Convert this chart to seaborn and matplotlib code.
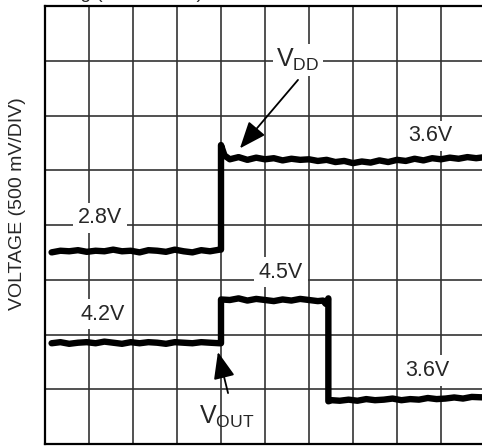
import matplotlib
matplotlib.use("Agg")
import matplotlib.pyplot as plt
import seaborn as sns
import pandas as pd

# ---- data (in divisions: x 0..10, y 0..8) ----
vdd_t = [0.15, 0.35, 0.55, 0.75, 0.95, 1.15, 1.35, 1.55, 1.75, 1.95,
         2.15, 2.35, 2.55, 2.75, 2.95, 3.15, 3.35, 3.55, 3.75, 3.97,
         4.0, 4.0, 4.08, 4.2, 4.4, 4.6, 4.8, 5.0, 5.2, 5.4, 5.6, 5.8,
         6.0, 6.2, 6.4, 6.6, 6.8, 7.0, 7.2, 7.4, 7.6, 7.8, 8.0, 8.2,
         8.4, 8.6, 8.8, 9.0, 9.2, 9.4, 9.6, 9.8, 10.0]
vdd_v = [3.50, 3.53, 3.52, 3.54, 3.51, 3.53, 3.52, 3.55, 3.52, 3.53,
         3.50, 3.54, 3.53, 3.51, 3.55, 3.52, 3.50, 3.54, 3.52, 3.55,
         3.55, 5.46, 5.27, 5.20, 5.24, 5.19, 5.23, 5.20, 5.22, 5.18, 5.21, 5.19,
         5.20, 5.17, 5.19, 5.15, 5.17, 5.13, 5.16, 5.14, 5.18, 5.15, 5.19, 5.17,
         5.21, 5.18, 5.22, 5.20, 5.23, 5.21, 5.24, 5.22, 5.24]

vout_t = [0.15, 0.35, 0.55, 0.75, 0.95, 1.15, 1.35, 1.55, 1.75, 1.95,
          2.15, 2.35, 2.55, 2.75, 2.95, 3.15, 3.35, 3.55, 3.75, 3.97,
          4.0, 4.0, 4.2, 4.4, 4.6, 4.8, 5.0, 5.2, 5.4, 5.6, 5.8, 6.0,
          6.2, 6.32, 6.38, 6.44, 6.44, 6.52, 6.7, 6.9, 7.1, 7.3, 7.5,
          7.7, 7.9, 8.1, 8.3, 8.5, 8.7, 8.9, 9.1, 9.3, 9.5, 9.7, 10.0]
vout_v = [1.84, 1.86, 1.83, 1.85, 1.86, 1.84, 1.87, 1.85, 1.83, 1.86,
          1.84, 1.86, 1.85, 1.83, 1.86, 1.85, 1.84, 1.86, 1.85, 1.84,
          1.84, 2.64, 2.63, 2.66, 2.62, 2.65, 2.63, 2.61, 2.64, 2.62, 2.65, 2.63,
          2.61, 2.62, 2.56, 2.66, 0.78, 0.80, 0.79, 0.81, 0.79, 0.82, 0.80,
          0.81, 0.83, 0.80, 0.82, 0.81, 0.84, 0.82, 0.83, 0.85, 0.83, 0.86, 0.85]

level_labels = ["2.8V", "4.2V", "4.5V", "3.6V", "3.6V"]
level_x = [1.25, 1.30, 5.36, 8.75, 8.68]
level_y = [4.13, 2.37, 3.14, 5.63, 1.34]

y_label = "VOLTAGE (500 mV/DIV)"
top_text = "Timing (200ms/DIV)"

df = pd.concat([
    pd.DataFrame({"t": vdd_t, "v": vdd_v, "trace": "VDD"}),
    pd.DataFrame({"t": vout_t, "v": vout_v, "trace": "VOUT"}),
], ignore_index=True)

sns.set_style("white")
plt.rcParams["font.family"] = ["Liberation Sans", "DejaVu Sans"]
plt.rcParams["mathtext.fontset"] = "custom"
plt.rcParams["mathtext.rm"] = "Liberation Sans"

fig = plt.figure(figsize=(4.82, 4.47), dpi=100)
ax = fig.add_axes([45 / 482, 3 / 447, 440 / 482, 438 / 447])

sns.lineplot(data=df, x="t", y="v", units="trace", estimator=None, sort=False,
             color="black", lw=4.6, ax=ax, legend=False,
             solid_joinstyle="round", solid_capstyle="round", zorder=4)

ax.set_xlim(0, 10)
ax.set_ylim(0, 8)
ax.set_xticks(range(0, 11))
ax.set_yticks(range(0, 9))
ax.set_xticklabels([])
ax.set_yticklabels([])
ax.tick_params(length=0)
ax.grid(True, color="#333333", lw=1.2)
ax.set_axisbelow(True)
ax.set_xlabel("")
ax.set_ylabel(y_label, fontsize=14)
ax.yaxis.set_label_coords(-0.043, 0.548)
for s in ["top", "left", "bottom"]:
    ax.spines[s].set_color("black")
    ax.spines[s].set_linewidth(1.6)
ax.spines["right"].set_visible(False)

box = dict(boxstyle="square,pad=0.22", fc="white", ec="none")
for lab, x, y in zip(level_labels, level_x, level_y):
    ax.text(x, y, lab, fontsize=15.5, ha="center", va="center", bbox=box, zorder=3)

ax.text(5.75, 7.02, r"V$_\mathregular{DD}$", fontsize=18, ha="center", va="center",
        bbox=dict(boxstyle="square,pad=0.12", fc="white", ec="none"), zorder=3)
ax.text(4.14, 0.50, r"V$_\mathregular{OUT}$", fontsize=18, ha="center", va="center",
        zorder=3)

arrow = dict(arrowstyle="-|>,head_length=0.55,head_width=0.22", mutation_scale=30,
             lw=1.3, color="black", shrinkA=0, shrinkB=0)
ax.annotate("", xy=(4.43, 5.40), xytext=(5.75, 6.65), arrowprops=arrow, zorder=5)
ax.annotate("", xy=(3.93, 1.68), xytext=(4.16, 0.93), arrowprops=arrow, zorder=5)

fig.text(203 / 482, 1.0 + 1.5 / 447, top_text, fontsize=13.7, ha="right", va="baseline")

fig.savefig("out.png", dpi=100)
